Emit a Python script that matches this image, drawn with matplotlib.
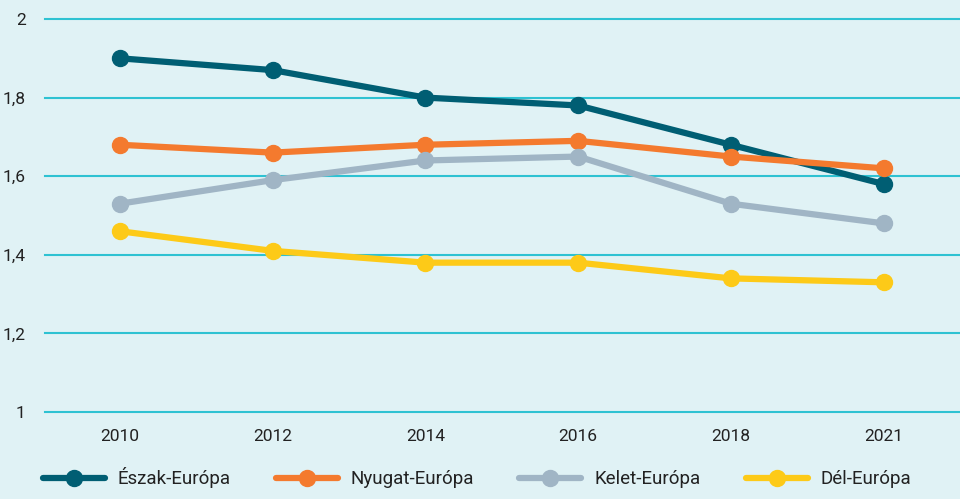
import matplotlib.pyplot as plt

# data
years = ["2010", "2012", "2014", "2016", "2018", "2021"]
eszak = [1.90, 1.87, 1.80, 1.78, 1.68, 1.58]
nyugat = [1.68, 1.66, 1.68, 1.69, 1.65, 1.62]
kelet = [1.53, 1.59, 1.64, 1.65, 1.53, 1.48]
del_ = [1.46, 1.41, 1.38, 1.38, 1.34, 1.33]
yticks = [1.0, 1.2, 1.4, 1.6, 1.8, 2.0]
ytick_labels = ["1", "1,2", "1,4", "1,6", "1,8", "2"]

plt.rcParams['font.family'] = ['Roboto', 'DejaVu Sans']

bg = "#e0f2f5"
fig = plt.figure(figsize=(9.6, 4.99), dpi=100, facecolor=bg)
ax = fig.add_axes([45 / 960, 1 - 412 / 499, 1 - 45 / 960, (412 - 19) / 499])
ax.set_facecolor(bg)

x = list(range(len(years)))
series = [
    ("Észak-Európa", eszak, "#005e73"),
    ("Nyugat-Európa", nyugat, "#f47a2e"),
    ("Kelet-Európa", kelet, "#a0b5c5"),
    ("Dél-Európa", del_, "#fdca18"),
]
for name, vals, col in series:
    ax.plot(x, vals, color=col, lw=4.5, marker="o", ms=11.5, label=name,
            solid_capstyle="round", clip_on=False, zorder=3)

ax.set_ylim(1, 2)
ax.set_xlim(-0.49, 5.5)
ax.set_yticks(yticks)
ax.set_yticklabels(ytick_labels)
ax.set_xticks(x)
ax.set_xticklabels(years)
ax.grid(axis="y", color="#2ec2d2", lw=1.5)
for gl in ax.get_ygridlines():
    gl.set_clip_on(False)
ax.set_axisbelow(True)
for s in ax.spines.values():
    s.set_visible(False)
ax.tick_params(axis="y", length=0, pad=14, labelsize=12.5, labelcolor="#222222")
ax.tick_params(axis="x", length=0, pad=12, labelsize=12.5, labelcolor="#222222")

fig.legend(loc="lower center", bbox_to_anchor=(0.497, -0.012), ncol=4, frameon=False,
           fontsize=13.5, handlelength=3.3, columnspacing=2.4, handletextpad=0.7,
           labelcolor="#222222")

fig.savefig("out.png", dpi=100, facecolor=bg)
